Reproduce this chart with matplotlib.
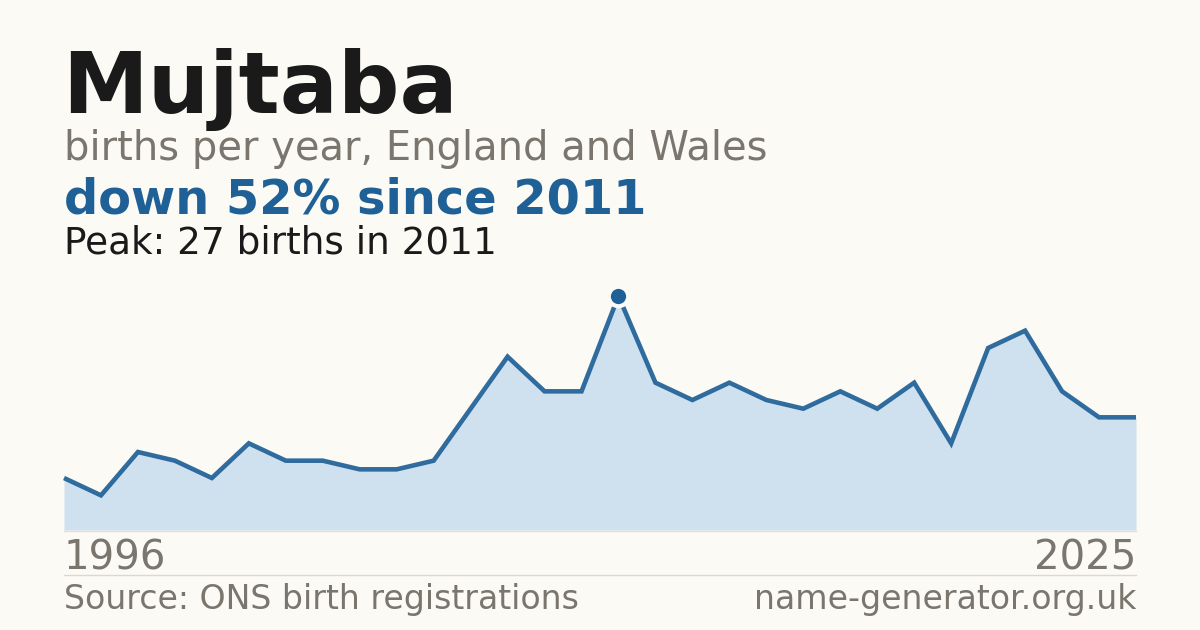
import matplotlib
matplotlib.use("Agg")
import matplotlib.pyplot as plt

# births per year for the name
years = list(range(1996, 2026))
births = [6, 4, 9, 8, 6, 10, 8, 8, 7, 7, 8, 14, 20, 16, 16,
          27, 17, 15, 17, 15, 14, 16, 14, 17, 10, 21, 23, 16, 13, 13]

name = "Mujtaba"
subtitle = "births per year, England and Wales"
headline = "down 52% since 2011"
peak_note = "Peak: 27 births in 2011"
source = "Source: ONS birth registrations"
site = "name-generator.org.uk"

BG = "#fbfaf5"
BLUE = "#1f6096"
FILL = "#cfe0ef"
GREY = "#7a756d"
DARK = "#1a1a1a"

W, H = 1200, 630
fig = plt.figure(figsize=(W / 100, H / 100), dpi=100, facecolor=BG)


def px(x, y):
    # pixel coords (top-left origin) -> figure fraction
    return x / W, 1 - y / H


# chart area: x 64..1136, y 296 (peak) .. 530 (zero)
ax = fig.add_axes([64 / W, (H - 530) / H, 1072 / W, 234 / H])
ax.set_facecolor("none")
ax.fill_between(years, births, 0, color=FILL, lw=0)
ax.plot(years, births, color=BLUE, lw=3.3, solid_joinstyle="miter",
        solid_capstyle="butt", clip_on=False, alpha=0.92)
peak_i = births.index(max(births))
ax.plot(years[peak_i], births[peak_i], "o", ms=14, color=BLUE,
        mec=BG, mew=3, clip_on=False, zorder=5)
ax.set_xlim(years[0], years[-1])
ax.set_ylim(0, max(births))
ax.axis("off")

# baseline under the fill and separator above footer
fig.add_artist(plt.Line2D([64 / W, 1136 / W], [1 - 530.5 / H] * 2, color="#e4dfd4", lw=1))
fig.add_artist(plt.Line2D([64 / W, 1136 / W], [1 - 574.5 / H] * 2, color="#dcd8d0", lw=1))

fig.text(*px(62, 113), name, fontsize=62, fontweight="bold", color=DARK, va="baseline")
fig.text(*px(64, 160), subtitle, fontsize=28.8, color=GREY, va="baseline")
fig.text(*px(64, 214), headline, fontsize=34.5, fontweight="bold", color=BLUE, va="baseline")
fig.text(*px(64, 253), peak_note, fontsize=26.9, color=DARK, va="baseline")

fig.text(*px(64, 570), str(years[0]), fontsize=29, color=GREY, va="baseline")
fig.text(*px(1136, 570), str(years[-1]), fontsize=29, color=GREY, va="baseline", ha="right")
fig.text(*px(64, 609), source, fontsize=23.9, color=GREY, va="baseline")
fig.text(*px(1136, 609), site, fontsize=23.9, color=GREY, va="baseline", ha="right")

fig.savefig("out.png", dpi=100, facecolor=BG)
